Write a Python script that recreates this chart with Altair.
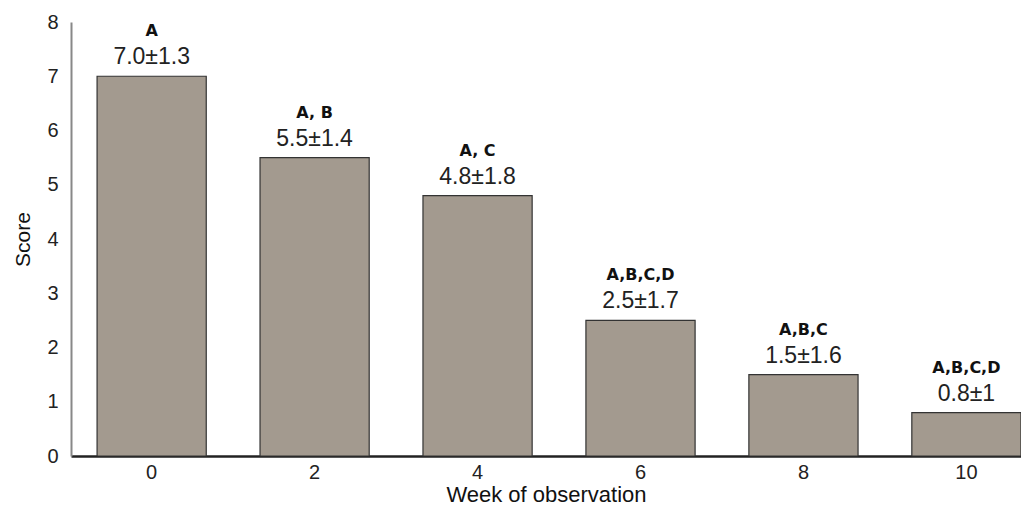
import altair as alt
import pandas as pd

weeks = ["0", "2", "4", "6", "8", "10"]
scores = [7.0, 5.5, 4.8, 2.5, 1.5, 0.8]
value_labels = ["7.0±1.3", "5.5±1.4", "4.8±1.8", "2.5±1.7", "1.5±1.6", "0.8±1"]
letter_labels = ["A", "A, B", "A, C", "A,B,C,D", "A,B,C", "A,B,C,D"]

df = pd.DataFrame({"week": weeks, "score": scores, "val": value_labels, "let": letter_labels})

FONT = "Liberation Sans"

x = alt.X("week:N", sort=weeks, title="Week of observation",
          scale=alt.Scale(paddingInner=0.33, paddingOuter=0.08, align=1),
          axis=alt.Axis(labelAngle=0, labelFontSize=20, labelColor="#222", labelPadding=6,
                        ticks=False, domainColor="#222", domainWidth=2.5,
                        titleFontSize=22, titleFontWeight="normal", titleColor="#111",
                        titlePadding=2, labelFont=FONT, titleFont=FONT))
y = alt.Y("score:Q", title="Score",
          scale=alt.Scale(domain=[0, 8], nice=False),
          axis=alt.Axis(values=list(range(9)), ticks=False, grid=False, labelFontSize=20,
                        labelColor="#222", labelPadding=13, domainColor="#888", domainWidth=2,
                        titleFontSize=21, titleFontWeight="normal", titleColor="#111",
                        titlePadding=13, labelFont=FONT, titleFont=FONT))

bars = alt.Chart(df).mark_bar(color="#a39a8f", stroke="#333", strokeWidth=1.2).encode(x=x, y=y)

vals = alt.Chart(df).mark_text(dy=-19, fontSize=23, font=FONT, color="#222").encode(
    x=alt.X("week:N", sort=weeks), y="score:Q", text="val:N")
lets = alt.Chart(df).mark_text(dy=-45, fontSize=16, fontWeight="bold", font="DejaVu Sans",
                               color="#111").encode(
    x=alt.X("week:N", sort=weeks), y="score:Q", text="let:N")

chart = (bars + vals + lets).properties(
    width=950, height=434,
    autosize=alt.AutoSizeParams(type="none"),
    padding={"left": 63, "top": 14, "right": 0, "bottom": 53},
).configure_view(stroke=None)

chart.save("out.html", embed_options={"renderer": "svg", "actions": False})
